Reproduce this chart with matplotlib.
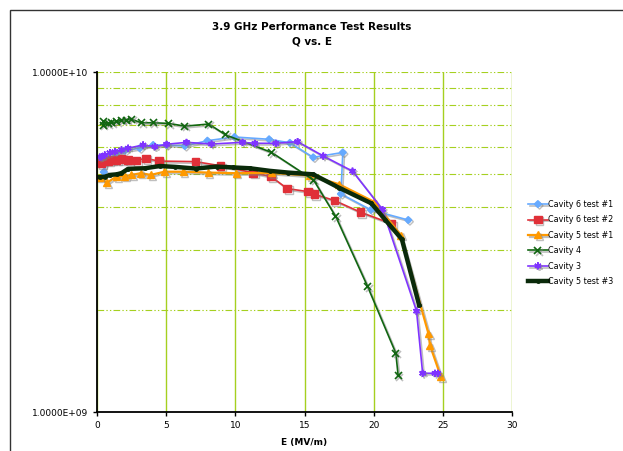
import numpy as np
import matplotlib
matplotlib.use('Agg')
import matplotlib.pyplot as plt
import matplotlib.patheffects as pe
from matplotlib.ticker import FixedLocator, LogLocator, NullFormatter, FuncFormatter

# Cavity 6 test #1
e_c6t1 = [0.49, 0.78, 1.41, 2.01, 3.09, 4.06, 5.03, 6.35, 7.98, 9.94, 12.44, 13.94, 15.63, 17.77, 17.63, 19.8, 22.5]
q_c6t1 = [5.08e9, 5.51e9, 5.77e9, 5.87e9, 5.97e9, 6.10e9, 6.10e9, 6.06e9, 6.28e9, 6.44e9, 6.34e9, 6.19e9, 5.61e9,
          5.80e9, 4.38e9, 3.93e9, 3.67e9]

# Cavity 6 test #2
e_c6t2 = [0.2, 0.33, 0.56, 0.80, 1.07, 1.41, 1.77, 2.25, 2.86, 3.53, 4.47, 7.11, 8.93, 11.29, 12.57, 13.75, 15.23,
          15.71, 17.16, 19.04, 21.29]
q_c6t2 = [5.44e9, 5.39e9, 5.51e9, 5.48e9, 5.53e9, 5.51e9, 5.54e9, 5.51e9, 5.49e9, 5.57e9, 5.47e9, 5.45e9, 5.30e9,
          5.05e9, 4.93e9, 4.54e9, 4.45e9, 4.37e9, 4.19e9, 3.87e9, 3.58e9]

# Cavity 5 test #1
e_c5t1 = [0.2, 0.71, 1.41, 2.01, 2.49, 3.17, 3.89, 4.87, 6.23, 8.03, 10.07, 12.62, 15.39, 17.48, 20.04, 21.97,
          23.96, 24.07, 24.86]
q_c5t1 = [4.91e9, 4.72e9, 4.93e9, 4.94e9, 4.98e9, 5.04e9, 4.98e9, 5.09e9, 5.09e9, 5.06e9, 5.04e9, 5.05e9, 4.96e9,
          4.68e9, 4.15e9, 3.31e9, 1.70e9, 1.57e9, 1.27e9]

# Cavity 4
e_c4 = [0.44, 0.49, 0.80, 1.05, 1.41, 1.77, 2.13, 2.49, 3.22, 4.06, 5.19, 6.35, 8.08, 9.31, 12.62, 15.66, 17.27,
        19.56, 21.6, 21.77]
q_c4 = [6.98e9, 7.14e9, 7.06e9, 7.09e9, 7.14e9, 7.22e9, 7.22e9, 7.26e9, 7.09e9, 7.09e9, 7.06e9, 6.93e9, 7.03e9,
        6.53e9, 5.80e9, 4.81e9, 3.75e9, 2.34e9, 1.49e9, 1.28e9]

# Cavity 3
e_c3 = [0.2, 0.33, 0.56, 0.93, 1.29, 1.77, 2.25, 3.33, 4.18, 5.03, 6.47, 8.28, 10.52, 11.41, 12.93, 14.5, 16.36,
        18.47, 20.64, 23.1, 23.54, 24.43, 24.64]
q_c3 = [5.62e9, 5.63e9, 5.70e9, 5.79e9, 5.83e9, 5.90e9, 5.97e9, 6.10e9, 6.03e9, 6.13e9, 6.21e9, 6.14e9, 6.21e9,
        6.17e9, 6.17e9, 6.24e9, 5.66e9, 5.11e9, 3.94e9, 1.98e9, 1.30e9, 1.30e9, 1.30e9]

# Cavity 5 test #3
e_c5t3 = [0.2, 0.56, 0.93, 1.41, 1.77, 2.25, 3.46, 4.54, 5.63, 7.14, 8.64, 9.84, 11.05, 12.49, 13.82, 15.63, 17.48,
          19.83, 20.85, 22.04, 23.29]
q_c5t3 = [4.91e9, 4.92e9, 4.98e9, 5.00e9, 5.04e9, 5.19e9, 5.21e9, 5.29e9, 5.26e9, 5.20e9, 5.27e9, 5.24e9, 5.21e9,
          5.12e9, 5.06e9, 5.00e9, 4.57e9, 4.11e9, 3.67e9, 3.22e9, 2.06e9]

grid_col = '#A5D020'
dashdot = (0, (6, 2, 1.2, 2, 1.2, 2))
shadow = [pe.SimpleLineShadow(offset=(1.2, -1.2), shadow_color='gray', alpha=0.5), pe.Normal()]

fig = plt.figure(figsize=(6.23, 4.51), dpi=100)
ax = fig.add_axes([97 / 623, 39 / 451, 415 / 623, 340 / 451])

ax.plot(e_c6t1, q_c6t1, color='#66AAFF', marker='D', ms=3.5, lw=1.2, label='Cavity 6 test #1', path_effects=shadow)
ax.plot(e_c6t2, q_c6t2, color='#E03038', marker='s', ms=5.5, lw=1.2, label='Cavity 6 test #2', path_effects=shadow)
ax.plot(e_c5t1, q_c5t1, color='#FF9900', marker='^', ms=5, lw=1.6, label='Cavity 5 test #1', path_effects=shadow)
ax.plot(e_c4, q_c4, color='#116611', marker='x', ms=5, mew=1.2, lw=1.2, label='Cavity 4', path_effects=shadow)
ax.plot(e_c3, q_c3, color='#7F33FF', marker=(6, 2, 0), ms=5, mew=1.2, lw=1.2, label='Cavity 3', path_effects=shadow)
ax.plot(e_c5t3, q_c5t3, color='#0A2A0A', marker='o', ms=2.5, lw=3.2, label='Cavity 5 test #3')

ax.set_yscale('log')
ax.set_xlim(0, 30)
ax.set_ylim(1e9, 1e10)
ax.xaxis.set_major_locator(FixedLocator([0, 5, 10, 15, 20, 25, 30]))
ax.yaxis.set_major_locator(FixedLocator([1e9, 1e10]))
ax.yaxis.set_major_formatter(FuncFormatter(lambda v, p: '%.4fE+%02d' % (v / 10 ** np.floor(np.log10(v)), np.floor(np.log10(v)))))
ax.yaxis.set_minor_locator(LogLocator(base=10, subs=np.arange(2, 10)))
ax.yaxis.set_minor_formatter(NullFormatter())
ax.tick_params(axis='both', labelsize=6.5, direction='out', length=3, width=1)
ax.tick_params(axis='y', which='minor', length=0)

ax.grid(True, axis='x', color=grid_col, lw=1, ls='-')
ax.grid(True, axis='y', which='minor', color=grid_col, lw=0.8, ls=dashdot)
ax.axhline(1e10, color=grid_col, lw=0.8, ls=dashdot)
ax.set_axisbelow(True)
for s in ['top', 'right']:
    ax.spines[s].set_visible(False)
ax.spines['left'].set_linewidth(1.3)
ax.spines['bottom'].set_linewidth(1.3)

ax.set_xlabel('E (MV/m)', fontsize=6.5, fontweight='bold', labelpad=6)
fig.text(312 / 623, 1 - 27 / 451, '3.9 GHz Performance Test Results', ha='center', va='center',
         fontsize=7.5, fontweight='bold')
fig.text(312 / 623, 1 - 41 / 451, 'Q vs. E', ha='center', va='center', fontsize=7.5, fontweight='bold')

ax.legend(loc='center left', bbox_to_anchor=(525 / 623, 1 - 243 / 451), bbox_transform=fig.transFigure,
          frameon=False, fontsize=5.8, handlelength=2.4, handletextpad=0.1, labelspacing=0.8, borderaxespad=0)

# outer chart border
fig.patches.append(plt.Rectangle((10 / 623, -0.1), 1.2, 1 - 10 / 451 + 0.1, transform=fig.transFigure,
                                 fill=False, edgecolor='#333333', lw=1))

plt.savefig('out.png', dpi=100)
